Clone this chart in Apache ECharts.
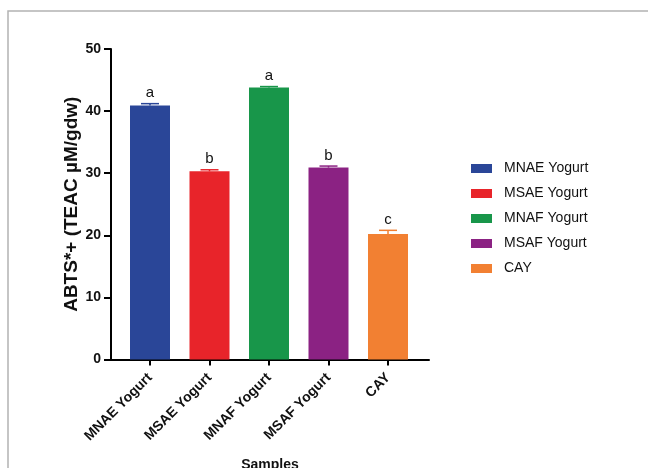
<!DOCTYPE html>
<html>
<head>
<meta charset="utf-8">
<script src="https://cdn.jsdelivr.net/npm/echarts@6/dist/echarts.min.js"></script>
<style>
  html, body { margin: 0; padding: 0; background: #fff; overflow: hidden; }
  #chart { width: 648px; height: 468px; }
</style>
</head>
<body>
<div id="chart"></div>
<script>
// Sample groups, mean ABTS values, standard errors and significance letters
const categories = ['MNAE Yogurt', 'MSAE Yogurt', 'MNAF Yogurt', 'MSAF Yogurt', 'CAY'];
const means = [40.9, 30.3, 43.8, 30.9, 20.2];
const errors = [0.3, 0.25, 0.15, 0.25, 0.6];
const letters = ['a', 'b', 'a', 'b', 'c'];
const colors = ['#2a4698', '#e8242a', '#18964a', '#8b2283', '#f28032'];
const yTicks = [0, 10, 20, 30, 40, 50];

const FONT = 'Arial, "Liberation Sans", sans-serif';
const positions = categories.map((_, i) => i + 1);

const barSeries = categories.map((name, i) => ({
  name: name,
  type: 'bar',
  data: [[positions[i], means[i]]],
  barWidth: 40,
  barGap: '-100%',
  itemStyle: { color: colors[i] },
  z: 2
}));

// Error bar (upper half) plus letter annotation above each bar
const errorSeries = {
  type: 'custom',
  data: categories.map((_, i) => [positions[i], means[i], errors[i], i]),
  renderItem: function (params, api) {
    const x = api.value(0), m = api.value(1), e = api.value(2), i = api.value(3);
    const top = api.coord([x, m + e]);
    const base = api.coord([x, m]);
    const half = 9;
    const col = colors[i];
    return {
      type: 'group',
      children: [
        { type: 'line', shape: { x1: top[0], y1: top[1], x2: base[0], y2: base[1] },
          style: { stroke: col, lineWidth: 1.5 } },
        { type: 'line', shape: { x1: top[0] - half, y1: top[1], x2: top[0] + half, y2: top[1] },
          style: { stroke: col, lineWidth: 1.5 } },
        { type: 'text', x: top[0], y: top[1] - 3,
          style: { text: letters[i], fontSize: 15, fontFamily: FONT, fill: '#111',
                   align: 'center', verticalAlign: 'bottom' } }
      ]
    };
  },
  z: 3
};

const chart = echarts.init(document.getElementById('chart'), null, { renderer: 'canvas' });
chart.setOption({
  backgroundColor: '#fff',
  animation: false,
  grid: { left: 111, right: 219, top: 49, bottom: 108.5, containLabel: false, outerBoundsMode: 'none' },
  legend: {
    orient: 'vertical',
    left: 471,
    top: 161,
    padding: 0,
    icon: 'rect',
    itemWidth: 21,
    itemHeight: 9,
    itemGap: 10,
    data: categories,
    textStyle: { fontFamily: FONT, fontSize: 14, color: '#111', lineHeight: 15, padding: [0, 0, 0, 7] }
  },
  xAxis: {
    type: 'value',
    min: 0.3445,
    max: 5.689,
    splitLine: { show: false },
    axisLine: { show: true, lineStyle: { color: '#000', width: 2 } },
    axisTick: { show: true, customValues: positions, length: 6, lineStyle: { color: '#000', width: 2 } },
    axisLabel: {
      customValues: positions,
      rotate: 45,
      margin: 16,
      fontFamily: FONT,
      fontWeight: 'bold',
      fontSize: 14,
      color: '#111',
      formatter: function (v) { return categories[Math.round(v) - 1] || ''; }
    },
    name: 'Samples',
    nameLocation: 'middle',
    nameGap: 99,
    nameTextStyle: { fontFamily: FONT, fontWeight: 'bold', fontSize: 14, color: '#111' }
  },
  yAxis: {
    type: 'value',
    min: yTicks[0],
    max: yTicks[yTicks.length - 1],
    interval: 10,
    splitLine: { show: false },
    axisLine: { show: true, lineStyle: { color: '#000', width: 2 } },
    axisTick: { show: true, length: 7, lineStyle: { color: '#000', width: 2 } },
    axisLabel: { fontFamily: FONT, fontWeight: 'bold', fontSize: 14, color: '#111', margin: 10 },
    name: 'ABTS*+ (TEAC µM/gdw)',
    nameLocation: 'middle',
    nameGap: 30,
    nameTextStyle: { fontFamily: FONT, fontWeight: 'bold', fontSize: 19, color: '#111' }
  },
  graphic: [
    { type: 'rect', shape: { x: 8, y: 11, width: 700, height: 500 },
      style: { fill: 'none', stroke: '#b3b3b3', lineWidth: 1.5 }, silent: true, z: -1 }
  ],
  series: barSeries.concat([errorSeries])
});
</script>
</body>
</html>
